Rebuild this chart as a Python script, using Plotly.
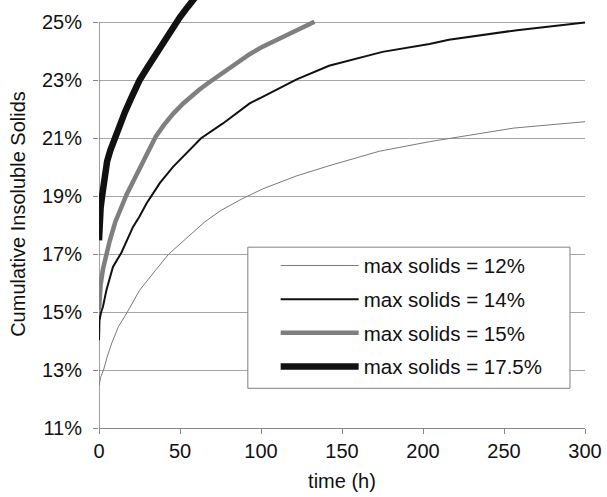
import plotly.graph_objects as go

# ---- data ----
x_ticks = [0, 50, 100, 150, 200, 250, 300]
y_ticks = [11, 13, 15, 17, 19, 21, 23, 25]
y_tick_labels = ["11%", "13%", "15%", "17%", "19%", "21%", "23%", "25%"]

series_names = ["max solids = 12%", "max solids = 14%",
                "max solids = 15%", "max solids = 17.5%"]

time_12 = [0, 1, 2.8, 5, 8, 12, 17.5, 25, 35, 43, 55, 65, 75, 88, 101, 122,
           142, 163, 173, 204, 220, 256, 300]
solids_12 = [12.45, 12.75, 13.0, 13.45, 13.95, 14.5, 15.0, 15.75, 16.45, 17.0,
             17.6, 18.1, 18.5, 18.9, 19.25, 19.7, 20.05, 20.4, 20.55, 20.88,
             21.03, 21.35, 21.57]

time_14 = [0, 0.3, 1.3, 2.5, 4.6, 8.6, 13.8, 21, 25, 29.3, 32.3, 37.5, 45.7,
           56, 63, 76.5, 85.8, 93, 101, 122, 142, 163, 175, 204, 216, 258, 300]
solids_14 = [14.03, 14.72, 15.0, 15.2, 15.76, 16.56, 17.05, 17.94, 18.3, 18.75,
             19.0, 19.45, 20.01, 20.6, 21.0, 21.51, 21.9, 22.2, 22.43, 23.03,
             23.5, 23.82, 23.98, 24.25, 24.4, 24.73, 24.99]

time_15 = [0, 0.2, 1, 2.5, 4.5, 6.6, 10, 14, 17, 21, 25, 30, 35, 40, 46, 52,
           57, 62, 67, 72, 77, 85, 93, 101, 110, 120, 127, 133]
solids_15 = [15.07, 15.5, 15.95, 16.5, 17.0, 17.45, 18.1, 18.7, 19.05, 19.5,
             19.95, 20.5, 21.05, 21.45, 21.86, 22.2, 22.45, 22.68, 22.89, 23.08,
             23.3, 23.6, 23.9, 24.16, 24.4, 24.68, 24.85, 25.02]

time_175 = [0, 0.3, 1, 1.9, 3, 5, 7, 10, 13, 16, 20, 25, 30, 35, 40, 45, 50,
            55, 60]
solids_175 = [17.48, 18.2, 18.6, 19.0, 19.5, 20.2, 20.58, 21.05, 21.5, 21.9,
              22.4, 23.0, 23.45, 23.9, 24.3, 24.75, 25.18, 25.55, 25.9]

FONT = "Liberation Sans, Arial, sans-serif"

fig = go.Figure()
fig.add_trace(go.Scatter(x=time_12, y=solids_12, name=series_names[0],
                         mode="lines", legendgroup="a",
                         line=dict(color="#7a7a7a", width=1)))
fig.add_trace(go.Scatter(x=time_14, y=solids_14, name=series_names[1],
                         mode="lines", legendgroup="b",
                         line=dict(color="#111111", width=2)))
fig.add_trace(go.Scatter(x=time_15, y=solids_15, name=series_names[2],
                         mode="lines", legendgroup="c",
                         line=dict(color="#7f7f7f", width=4.5)))
fig.add_trace(go.Scatter(x=time_175, y=solids_175, name=series_names[3],
                         mode="lines", legendgroup="d",
                         line=dict(color="#111111", width=6.5)))

fig.update_layout(
    width=607, height=497,
    margin=dict(l=99, r=22, t=0, b=69, autoexpand=False),
    paper_bgcolor="white", plot_bgcolor="white",
    font=dict(family=FONT, size=20, color="#111111"),
    showlegend=True,
    legend=dict(x=0.3635, y=0.426, xanchor="left", yanchor="top",
                bgcolor="rgba(0,0,0,0)", borderwidth=0,
                itemwidth=78, tracegroupgap=4,
                font=dict(family=FONT, size=20.5, color="#111111")),
    xaxis=dict(range=[0, 300], tickvals=x_ticks, showgrid=False,
               zeroline=False, showline=True, linecolor="#888888",
               linewidth=1, ticks="outside", ticklen=5, tickcolor="#888888",
               tickfont=dict(size=20), automargin=False,
               title=dict(text="time (h)", font=dict(size=20), standoff=12)),
    yaxis=dict(range=[11, 25.77], tickvals=y_ticks, ticktext=y_tick_labels,
               showgrid=True, gridcolor="#a6a6a6", gridwidth=1,
               zeroline=False, showline=False, ticks="outside", ticklen=5,
               tickcolor="#888888", tickfont=dict(size=20), automargin=False,
               ticklabelstandoff=7,
               title=dict(text="Cumulative Insoluble Solids",
                          font=dict(size=20), standoff=10)),
    shapes=[
        dict(type="line", xref="x", yref="y", x0=0, x1=0, y0=11, y1=25,
             line=dict(color="#444444", width=1), layer="between"),
        dict(type="rect", xref="paper", yref="paper",
             x0=0.3062, x1=0.9691, y0=0.0928, y1=0.4225,
             fillcolor="white", line=dict(color="#808080", width=1),
             layer="above"),
    ],
)

fig.write_html("out.html",
               config={"displayModeBar": False},
               post_script="document.body.style.margin='0px';")
